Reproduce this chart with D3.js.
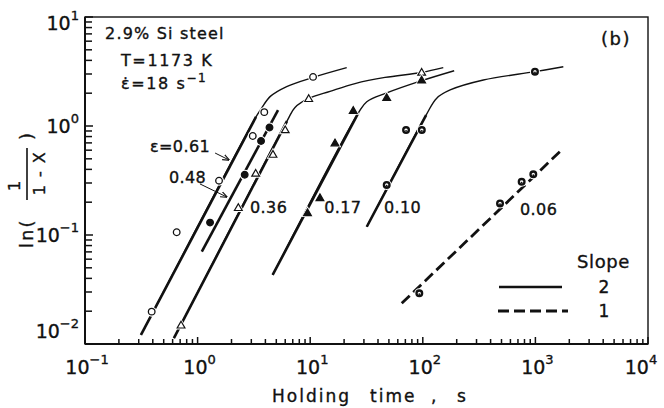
<!DOCTYPE html>
<html>
<head>
<meta charset="utf-8">
<script src="https://cdn.jsdelivr.net/npm/d3@7/dist/d3.min.js"></script>
<style>
  body { margin: 0; background: #fff; }
  svg text { font-family: "DejaVu Sans", sans-serif; fill: #111; stroke: #111; stroke-width: 0.35px; }
</style>
</head>
<body>
<svg class="chart"></svg>
<script>
// holding time (s), ln(1/(1-X))
var xDomain = [0.1, 1e4];
var yDomain = [0.01, 10];

// measured points per strain
var pts061 = [[0.391, 0.0198], [0.652, 0.106], [1.55, 0.315], [3.09, 0.81], [3.91, 1.34], [10.6, 2.82]];
var pts048 = [[1.29, 0.130], [2.62, 0.357], [3.66, 0.728], [4.35, 0.968]];
var pts036 = [[0.713, 0.0147], [2.30, 0.176], [3.28, 0.363], [4.67, 0.542], [6.0, 0.91], [9.7, 1.76], [97.7, 3.07]];
var pts017 = [[9.46, 0.158], [12.2, 0.217], [16.6, 0.69], [24.1, 1.37], [47.8, 1.80], [97.7, 2.60]];
var pts010 = [[47.8, 0.288], [71.0, 0.919], [98.0, 0.919], [991, 3.15]];
var pts006 = [[93.1, 0.0292], [485, 0.195], [755, 0.308], [958, 0.360]];

// fitted straight lines (slope 2 solid, slope 1 dashed)
var fit061 = [[0.314, 0.0121], [3.30, 1.21]];
var fit048 = [[1.09, 0.0703], [5.18, 1.40]];
var fit036 = [[0.616, 0.0113], [6.22, 1.11]];
var fit017 = [[4.64, 0.043], [26.7, 1.31]];
var fit010 = [[31.8, 0.119], [107, 1.26]];
var fit006 = [[65.0, 0.0236], [1770, 0.624]];

// hand drawn saturation curves
var curve061 = [[0.314, 0.0121], [3.30, 1.21], [3.71, 1.46], [4.40, 1.86], [6.18, 2.30], [10.7, 2.80], [21.1, 3.43]];
var curve036 = [[0.616, 0.0113], [6.22, 1.11], [7.33, 1.48], [9.7, 1.79], [15.0, 2.08], [25.0, 2.45], [46.2, 2.79], [97.7, 3.10], [152, 3.43]];
var curve017 = [[4.64, 0.043], [26.7, 1.31], [31.8, 1.67], [47.8, 2.01], [96.4, 2.59], [190, 3.21]];
var curve010 = [[31.8, 0.119], [107, 1.26], [133, 1.80], [175, 2.14], [345, 2.64], [991, 3.15], [1770, 3.50]];

// strain labels: text, anchor point
var strainLabels = [
  ["\u025B=0.61", 0.378, 0.577],
  ["0.48", 0.557, 0.300],
  ["0.36", 2.92, 0.159],
  ["0.17", 13.3, 0.159],
  ["0.10", 45.2, 0.159],
  ["0.06", 730, 0.152]
];
var arrows = [
  [[1.43, 0.565], [1.90, 0.488]],
  [[1.05, 0.294], [1.82, 0.223]]
];

var margin = {top: 17, right: 16, bottom: 64, left: 85},
    width = 664 - margin.left - margin.right,
    height = 408 - margin.top - margin.bottom;

var svg = d3.select(".chart")
    .attr("width", 664)
    .attr("height", 408);

var defs = svg.append("defs");
defs.append("marker")
    .attr("id", "arrow")
    .attr("viewBox", "0 0 10 10")
    .attr("refX", 9).attr("refY", 5)
    .attr("markerWidth", 7).attr("markerHeight", 7)
    .attr("markerUnits", "userSpaceOnUse")
    .attr("orient", "auto")
    .append("path")
    .attr("d", "M0,1 L10,5 L0,9")
    .attr("fill", "none")
    .attr("stroke", "#111")
    .attr("stroke-width", 1.6);

var chart = svg.append("g")
    .attr("transform", "translate(" + margin.left + "," + margin.top + ")");

var x = d3.scaleLog().domain(xDomain).range([0, width]);
var y = d3.scaleLog().domain(yDomain).range([height, 0]);

var line = d3.line()
    .x(function(d) { return x(d[0]); })
    .y(function(d) { return y(d[1]); });
var smooth = d3.line()
    .x(function(d) { return x(d[0]); })
    .y(function(d) { return y(d[1]); })
    .curve(d3.curveCatmullRom.alpha(0.5));

function isMajor(v) {
    var l = Math.log10(v);
    return Math.abs(l - Math.round(l)) < 1e-9;
}

// frame
chart.append("rect")
    .attr("width", width).attr("height", height)
    .attr("fill", "none").attr("stroke", "#111").attr("stroke-width", 1.4);
chart.append("line").attr("x1", 0).attr("x2", width).attr("y1", height).attr("y2", height)
    .attr("stroke", "#111").attr("stroke-width", 2);
chart.append("line").attr("x1", 0).attr("x2", 0).attr("y1", 0).attr("y2", height)
    .attr("stroke", "#111").attr("stroke-width", 2);

// x ticks (inward)
chart.selectAll(".xtick").data(x.ticks())
  .enter().append("line")
    .attr("class", "xtick")
    .attr("x1", function(d) { return x(d); }).attr("x2", function(d) { return x(d); })
    .attr("y1", height).attr("y2", function(d) { return height - (isMajor(d) ? 7 : 5); })
    .attr("stroke", "#111").attr("stroke-width", 1.5);

chart.selectAll(".ytick").data(y.ticks())
  .enter().append("line")
    .attr("class", "ytick")
    .attr("y1", function(d) { return y(d); }).attr("y2", function(d) { return y(d); })
    .attr("x1", 0).attr("x2", function(d) { return isMajor(d) ? 8 : 7; })
    .attr("stroke", "#111").attr("stroke-width", 1.5);

// tick labels 10^n
function expText(d) {
    var e = Math.round(Math.log10(d));
    return e < 0 ? "\u2212" + (-e) : e;
}
var xl = chart.selectAll(".xlab").data(x.ticks().filter(isMajor))
  .enter().append("text")
    .attr("class", "xlab")
    .attr("x", function(d) { return Math.min(width - 7, x(d) + 2); })
    .attr("y", height + 30)
    .attr("text-anchor", "middle")
    .style("font-size", "19px");
xl.append("tspan").text("10");
xl.append("tspan").attr("dy", -10).style("font-size", "13px").text(expText);

var yl = chart.selectAll(".ylab").data(y.ticks().filter(isMajor))
  .enter().append("text")
    .attr("class", "ylab")
    .attr("x", -6)
    .attr("y", function(d) { return Math.max(13, Math.min(height - 6, y(d) + 7)); })
    .attr("text-anchor", "end")
    .style("font-size", "19px");
yl.append("tspan").text("10");
yl.append("tspan").attr("dy", -10).style("font-size", "13px").text(expText);

// thin saturation curves
[curve061, curve036, curve017, curve010].forEach(function(c) {
    chart.append("path").datum(c)
        .attr("d", smooth)
        .attr("fill", "none").attr("stroke", "#111").attr("stroke-width", 1.4);
});

// slope 2 fits
[fit061, fit048, fit036, fit017, fit010].forEach(function(f) {
    chart.append("path").datum(f)
        .attr("d", line)
        .attr("fill", "none").attr("stroke", "#111").attr("stroke-width", 2.6);
});
chart.append("path").datum(fit006)
    .attr("d", line)
    .attr("fill", "none").attr("stroke", "#111").attr("stroke-width", 2.8)
    .attr("stroke-dasharray", "11,5");

// markers
function drawPoints(data, type, filled) {
    var g = chart.append("g");
    var sel = g.selectAll("g").data(data).enter().append("g")
        .attr("transform", function(d) { return "translate(" + x(d[0]) + "," + y(d[1]) + ")"; });
    if (type === "circle") {
        sel.append("circle").attr("r", 5).attr("fill", "#fff");
        sel.append("circle").attr("r", 3.3)
            .attr("fill", filled ? "#111" : "#fff")
            .attr("stroke", "#111").attr("stroke-width", 1.3);
    } else if (type === "ring") {
        sel.append("circle").attr("r", 5).attr("fill", "#fff");
        sel.append("circle").attr("r", 2.8)
            .attr("fill", "#fff").attr("stroke", "#111").attr("stroke-width", 2.4);
        sel.append("circle").attr("r", 0.9).attr("cy", 0.8).attr("fill", "#111");
    } else {
        sel.append("path").attr("d", d3.symbol(d3.symbolTriangle, 70)).attr("fill", "#fff");
        sel.append("path").attr("d", d3.symbol(d3.symbolTriangle, 26))
            .attr("fill", filled ? "#111" : "#fff")
            .attr("stroke", "#111").attr("stroke-width", 1.2);
    }
}
drawPoints(pts061, "circle", false);
drawPoints(pts048, "circle", true);
drawPoints(pts036, "tri", false);
drawPoints(pts017, "tri", true);
drawPoints(pts010, "ring", false);
drawPoints(pts006, "ring", false);

// strain labels and arrows
chart.selectAll(".slab").data(strainLabels)
  .enter().append("text")
    .attr("class", "slab")
    .attr("x", function(d) { return x(d[1]); })
    .attr("y", function(d) { return y(d[2]); })
    .style("font-size", "16px")
    .style("letter-spacing", "0.4px")
    .text(function(d) { return d[0]; });

chart.selectAll(".arrow").data(arrows)
  .enter().append("path")
    .attr("class", "arrow")
    .attr("d", line)
    .attr("fill", "none").attr("stroke", "#111").attr("stroke-width", 1)
    .attr("marker-end", "url(#arrow)");

// conditions
var info = svg.append("g").style("font-size", "16px");
info.append("text").attr("x", 105).attr("y", 39).style("letter-spacing", "1.2px").text("2.9% Si steel");
info.append("text").attr("x", 121).attr("y", 66).style("letter-spacing", "1.6px").text("T=1173 K");
var er = info.append("text").attr("x", 121).attr("y", 89).style("letter-spacing", "1.6px");
er.append("tspan").text("\u025B\u0307=18  s");
er.append("tspan").attr("dy", -7).style("font-size", "12px").text("\u22121");
svg.append("text").attr("x", 601).attr("y", 45).style("font-size", "18px").style("letter-spacing", "1.5px").text("(b)");

// legend
var leg = svg.append("g");
leg.append("text").attr("x", 577).attr("y", 268).style("font-size", "18px").style("letter-spacing", "0.6px").text("Slope");
leg.append("line").attr("x1", 499).attr("x2", 562).attr("y1", 287).attr("y2", 287)
    .attr("stroke", "#111").attr("stroke-width", 2.6);
leg.append("line").attr("x1", 498).attr("x2", 568).attr("y1", 311).attr("y2", 311)
    .attr("stroke", "#111").attr("stroke-width", 2.8).attr("stroke-dasharray", "11,5");
leg.append("text").attr("x", 604).attr("y", 293).attr("text-anchor", "middle").style("font-size", "17px").text("2");
leg.append("text").attr("x", 604).attr("y", 317).attr("text-anchor", "middle").style("font-size", "17px").text("1");

// axis titles
var xt = svg.append("text").attr("y", 402).style("font-size", "17px").style("letter-spacing", "2px");
xt.append("tspan").attr("x", 272).text("Holding");
xt.append("tspan").attr("x", 370).text("time");
xt.append("tspan").attr("x", 431).text(",");
xt.append("tspan").attr("x", 457).text("s");

var yt = svg.append("g").attr("transform", "translate(26,190) rotate(-90)");
yt.append("text").attr("x", -58).attr("y", 7).style("font-size", "18px").style("letter-spacing", "2px").text("ln(");
yt.append("text").attr("x", 4).attr("y", -6).attr("text-anchor", "middle").style("font-size", "16px").text("1");
yt.append("line").attr("x1", -10).attr("x2", 42).attr("y1", 1).attr("y2", 1)
    .attr("stroke", "#111").attr("stroke-width", 1.6);
yt.append("text").attr("x", 17).attr("y", 19).attr("text-anchor", "middle").style("font-size", "16px").style("letter-spacing", "1.5px").text("1 - X");
yt.append("text").attr("x", 50).attr("y", 7).style("font-size", "18px").text(")");
</script>
</body>
</html>
